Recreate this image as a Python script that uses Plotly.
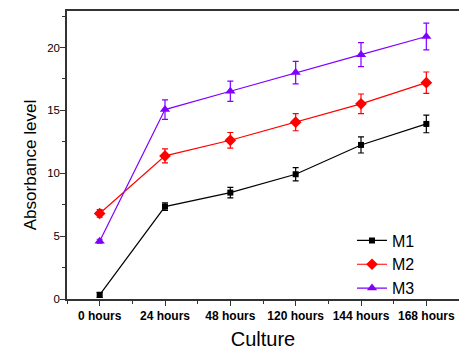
import plotly.graph_objects as go

categories = ["0 hours", "24 hours", "48 hours", "120 hours", "144 hours", "168 hours"]
m1 = [0.32, 7.35, 8.46, 9.92, 12.25, 13.92]
m1_err = [0.2, 0.3, 0.42, 0.52, 0.64, 0.7]
m2 = [6.8, 11.38, 12.62, 14.06, 15.52, 17.2]
m2_err = [0.3, 0.56, 0.62, 0.68, 0.78, 0.85]
m3 = [4.6, 15.06, 16.52, 18.0, 19.43, 20.87]
m3_err = [0.15, 0.77, 0.8, 0.89, 0.95, 1.06]

xpos = list(range(len(categories)))

series = [
    ("M1", m1, m1_err, "#000000", "square", 6),
    ("M2", m2, m2_err, "#FF0000", "diamond", 9),
    ("M3", m3, m3_err, "#8000FF", "triangle-up", 9),
]

fig = go.Figure()
for name, ys, errs, color, sym, size in series:
    fig.add_trace(go.Scatter(
        x=xpos, y=ys, name=name, mode="lines+markers",
        line=dict(color=color, width=1.2),
        marker=dict(symbol=sym, size=size, color=color),
        error_y=dict(type="data", array=errs, visible=True, color=color, thickness=1.2, width=3),
    ))

# page body has an 8px margin, so figure is offset by 8px
fig.update_layout(
    width=459, height=346,
    margin=dict(l=59, r=8, t=3, b=55),
    paper_bgcolor="white", plot_bgcolor="white",
    font=dict(family="Arial, Liberation Sans", color="black"),
    legend=dict(x=0.727, y=0.262, xanchor="left", yanchor="top",
                bgcolor="rgba(0,0,0,0)", font=dict(size=16),
                itemwidth=30, tracegroupgap=0),
    showlegend=True,
)
fig.add_annotation(
    text="Absorbance level", textangle=-90, showarrow=False,
    xref="paper", yref="paper", x=-0.094, y=0.465,
    xanchor="center", yanchor="middle", font=dict(size=17),
)
fig.update_xaxes(
    range=[-0.5, 5.5], tickmode="array", tickvals=xpos,
    ticktext=["<b>%s</b>" % c for c in categories],
    tickfont=dict(size=12), ticks="outside", ticklen=5, tickwidth=1, tickcolor="#333",
    minor=dict(tickmode="linear", tick0=0.5, dtick=1, ticks="outside", ticklen=3, tickcolor="#333"),
    showline=True, linecolor="#333", linewidth=1.5, mirror=True,
    showgrid=False, zeroline=False, automargin=False,
    title=dict(text="Culture", font=dict(size=20), standoff=10),
)
fig.update_yaxes(
    range=[0, 22.9], tickmode="linear", tick0=0, dtick=5,
    tickfont=dict(size=11.5), ticks="outside", ticklen=5, tickwidth=1, tickcolor="#333",
    ticklabelstandoff=-2,
    minor=dict(tickmode="linear", tick0=2.5, dtick=5, ticks="outside", ticklen=3, tickcolor="#333"),
    showline=True, linecolor="#333", linewidth=1.5, mirror=True,
    showgrid=False, zeroline=False, automargin=False,
)

fig.write_html("out.html")
